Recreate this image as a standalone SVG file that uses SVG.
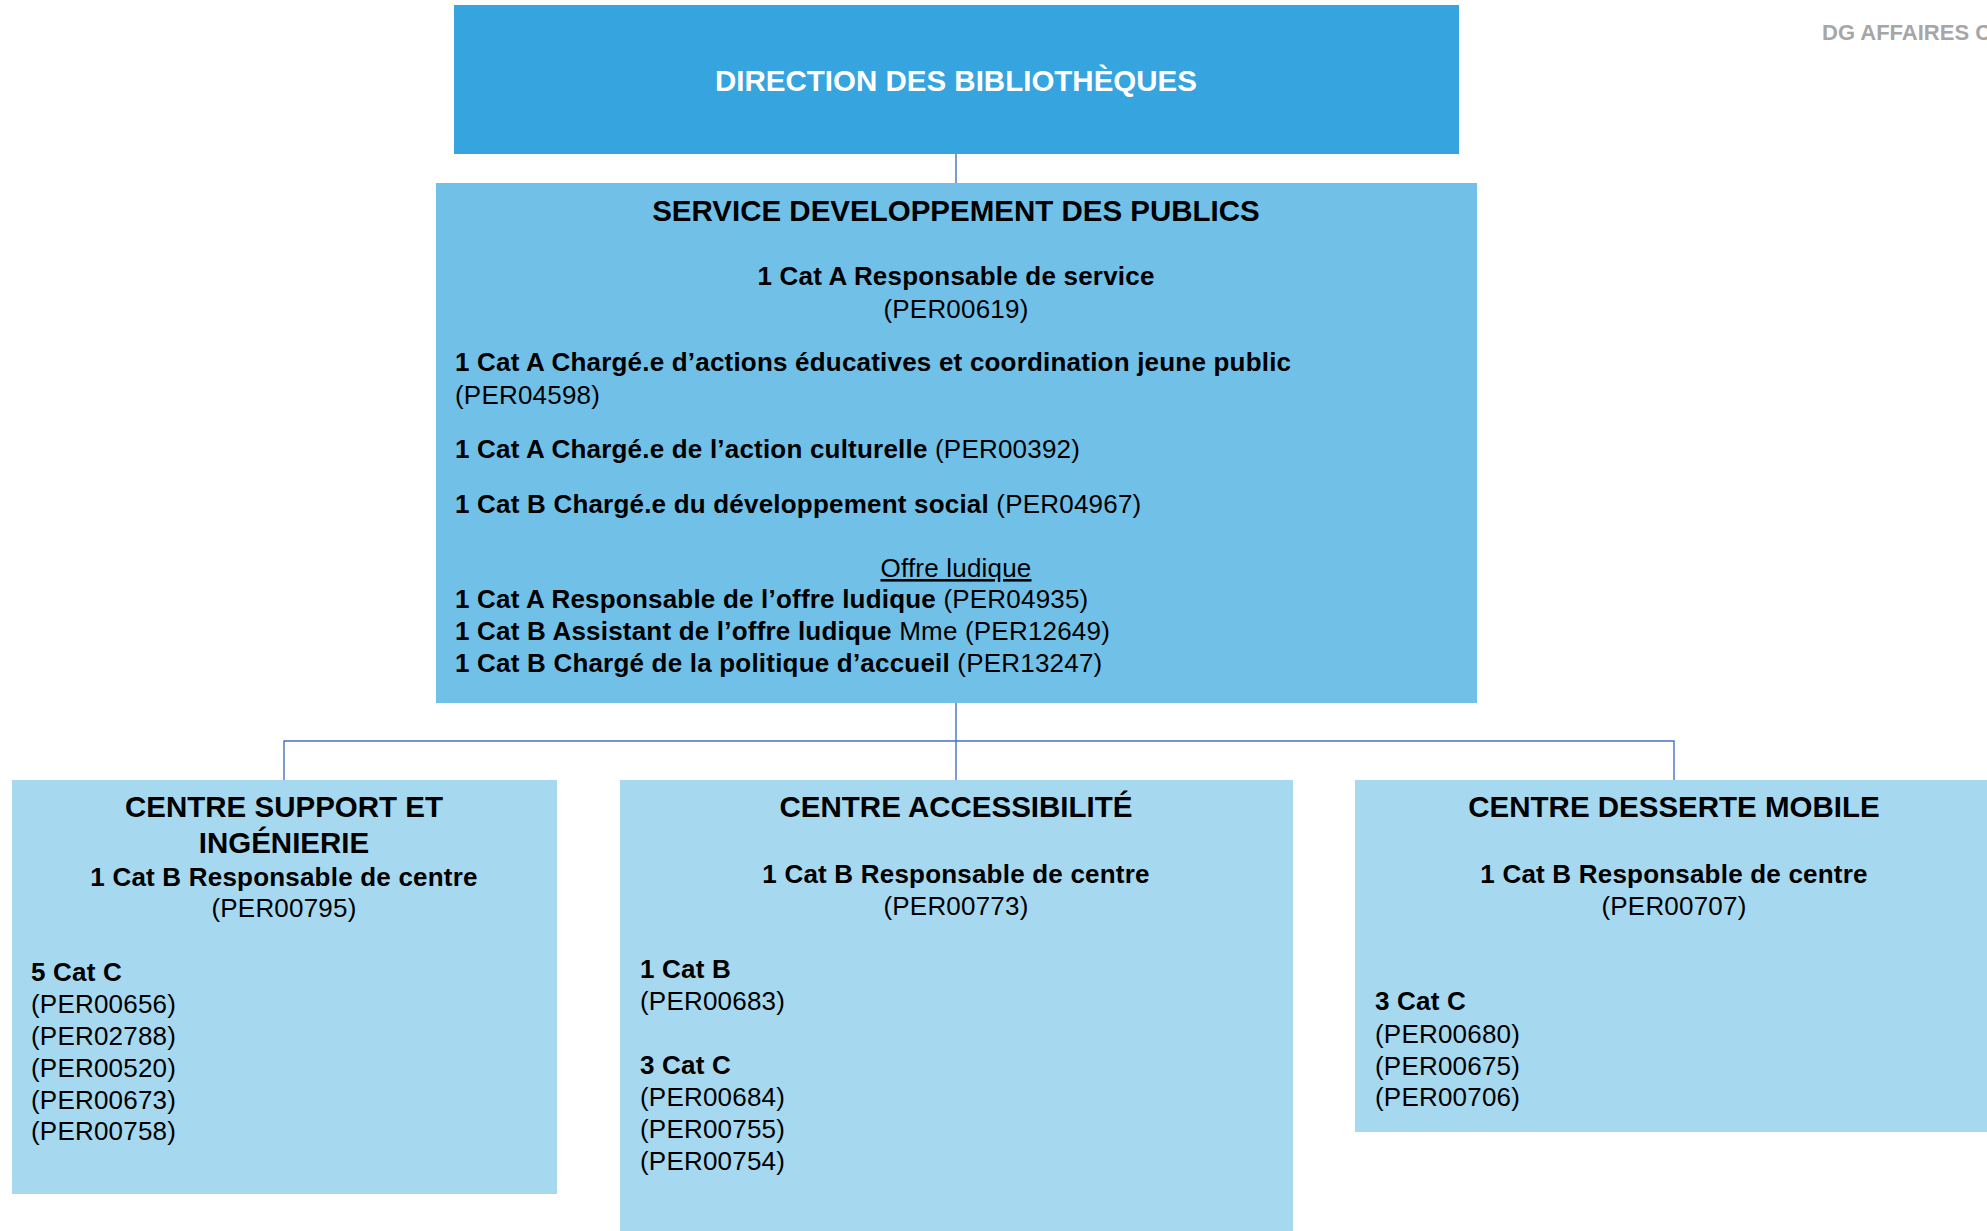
<svg xmlns="http://www.w3.org/2000/svg" width="1987" height="1231" viewBox="0 0 1987 1231">
<style>
text{font-family:"Liberation Sans",Arial,sans-serif;fill:#000}
.t{font-size:29.5px;font-weight:bold}
.b{font-size:26px;font-weight:bold;letter-spacing:0.2px}
.r{font-size:26px;font-weight:normal;letter-spacing:0.2px}
.n{font-weight:normal}
.c{text-anchor:middle}
.conn{stroke:#4472C4;stroke-width:1.4;fill:none}
</style>
<rect width="1987" height="1231" fill="#fff"/>
<text x="1822" y="40" style="font-size:22px;font-weight:bold;fill:#A6A6A6">DG AFFAIRES C</text>
<g id="connectors">
<path class="conn" d="M956 154V183M956 703V780M284 780V741H1674V780"/>
</g>
<g id="direction">
<rect x="454" y="5" width="1005" height="149" fill="#36A4DE"/>
<text class="t c" x="956" y="91" style="fill:#fff">DIRECTION DES BIBLIOTHÈQUES</text>
</g>
<g id="service">
<rect x="436" y="183" width="1041" height="520" fill="#71C0E8"/>
<text class="t c" x="956" y="221">SERVICE DEVELOPPEMENT DES PUBLICS</text>
<text class="b c" x="956" y="285">1 Cat A Responsable de service</text>
<text class="r c" x="956" y="318">(PER00619)</text>
<text class="b" x="455" y="371">1 Cat A Chargé.e d’actions éducatives et coordination jeune public</text>
<text class="r" x="455" y="404">(PER04598)</text>
<text class="b" x="455" y="458">1 Cat A Chargé.e de l’action culturelle <tspan class="n">(PER00392)</tspan></text>
<text class="b" x="455" y="513">1 Cat B Chargé.e du développement social <tspan class="n">(PER04967)</tspan></text>
<text class="r c" x="956" y="577" text-decoration="underline">Offre ludique</text>
<text class="b" x="455" y="608">1 Cat A Responsable de l’offre ludique <tspan class="n">(PER04935)</tspan></text>
<text class="b" x="455" y="640">1 Cat B Assistant de l’offre ludique <tspan class="n">Mme (PER12649)</tspan></text>
<text class="b" x="455" y="672">1 Cat B Chargé de la politique d’accueil <tspan class="n">(PER13247)</tspan></text>
</g>
<g id="centre-support">
<rect x="12" y="780" width="545" height="414" fill="#A6D8F0"/>
<text class="t c" x="284" y="817">CENTRE SUPPORT ET</text>
<text class="t c" x="284" y="853">INGÉNIERIE</text>
<text class="b c" x="284" y="886">1 Cat B Responsable de centre</text>
<text class="r c" x="284" y="917">(PER00795)</text>
<text class="b" x="31" y="981">5 Cat C</text>
<text class="r" x="31" y="1013">(PER00656)</text>
<text class="r" x="31" y="1045">(PER02788)</text>
<text class="r" x="31" y="1077">(PER00520)</text>
<text class="r" x="31" y="1109">(PER00673)</text>
<text class="r" x="31" y="1140">(PER00758)</text>
</g>
<g id="centre-accessibilite">
<rect x="620" y="780" width="673" height="451" fill="#A6D8F0"/>
<text class="t c" x="956" y="817">CENTRE ACCESSIBILITÉ</text>
<text class="b c" x="956" y="883">1 Cat B Responsable de centre</text>
<text class="r c" x="956" y="915">(PER00773)</text>
<text class="b" x="640" y="978">1 Cat B</text>
<text class="r" x="640" y="1010">(PER00683)</text>
<text class="b" x="640" y="1074">3 Cat C</text>
<text class="r" x="640" y="1106">(PER00684)</text>
<text class="r" x="640" y="1138">(PER00755)</text>
<text class="r" x="640" y="1170">(PER00754)</text>
</g>
<g id="centre-desserte">
<rect x="1355" y="780" width="638" height="352" fill="#A6D8F0"/>
<text class="t c" x="1674" y="817">CENTRE DESSERTE MOBILE</text>
<text class="b c" x="1674" y="883">1 Cat B Responsable de centre</text>
<text class="r c" x="1674" y="915">(PER00707)</text>
<text class="b" x="1375" y="1010">3 Cat C</text>
<text class="r" x="1375" y="1043">(PER00680)</text>
<text class="r" x="1375" y="1075">(PER00675)</text>
<text class="r" x="1375" y="1106">(PER00706)</text>
</g>
</svg>
